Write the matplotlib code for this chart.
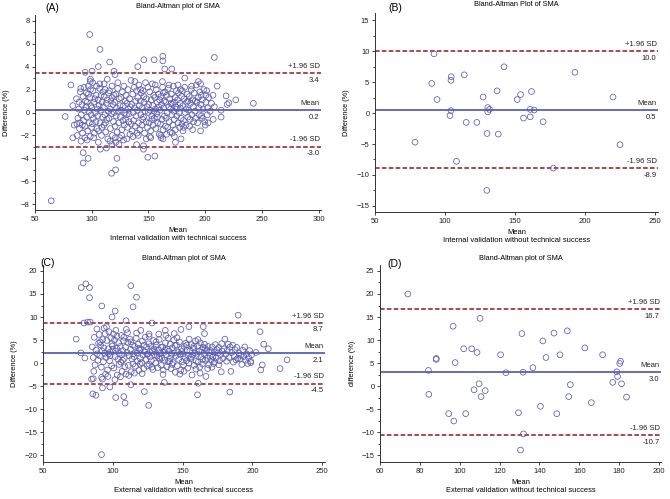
import numpy as np
import matplotlib.pyplot as plt
from matplotlib.ticker import MultipleLocator, AutoMinorLocator
import matplotlib.transforms as mtransforms

plt.rcParams['font.family'] = ['Liberation Sans', 'DejaVu Sans']

# ---- data: (mean, difference %) ----
# (A) internal validation with technical success
a_points = np.array([
    # outlying points
    (64.3, -7.7), (76.6, -0.35), (81.6, 2.4), (83.3, 0.6), (83.3, -2.2), (84.5, -1.1),
    (98.2, 6.8), (107.3, 5.5), (105.8, 4.0), (100.3, 3.6), (94.2, 3.5), (115.8, 4.4),
    (119.6, 3.6), (120.5, 3.3), (113.7, 2.9), (98.8, 2.9), (98.8, 2.7),
    (92.4, -4.4), (96.8, -4.0), (92.4, -3.5), (117.5, -5.3), (121.0, -5.0), (122.2, -4.0),
    (107.6, -3.2), (112.9, -3.1), (117.8, -2.8), (124.0, -2.8), (120.8, -2.2),
    (139.5, -2.8), (145.6, -2.9), (145.6, -3.2), (149.4, -3.9), (155.6, -3.8),
    (152.0, -2.2), (161.0, -2.2), (162.8, -2.3), (172.8, -2.1), (173.7, -2.6), (178.7, -2.3),
    (140.6, 4.0), (145.9, 4.6), (155.0, 4.6), (162.6, 4.9), (162.6, 4.5), (164.3, 3.8),
    (170.5, 3.8), (208.0, 4.8), (181.9, 3.0), (162.3, 2.7),
    (180.4, -1.6), (188.9, -1.5), (195.9, -1.6), (200.0, -1.1), (201.8, -0.2), (197.4, -0.5),
    (210.5, 2.3), (214.0, -0.4), (214.0, 0.2), (218.4, 1.45), (219.3, 0.7), (220.8, 0.85),
    (226.9, 1.1), (242.4, 0.8), (200.6, 1.5), (193.9, 2.7), (195.9, 2.5),
    # main cloud
    (86.5, 1.2), (87.8, -0.5), (88.4, 0.3), (89.2, -1.4), (89.9, 1.8), (87.2, -2.0), (88.8, 0.9),
    (89.5, -0.9), (86.9, -1.0),
    (90.3, 2.1), (90.8, -0.2), (91.4, 0.7), (91.9, -1.8), (92.3, 1.4), (92.8, -0.7), (93.2, 2.2),
    (93.6, 0.2), (94.1, -1.2), (94.5, 1.0), (90.6, -2.5), (91.7, -1.1), (93.9, -2.2), (94.8, 0.5),
    (95.2, 1.7), (95.6, -0.4), (96.1, 0.9), (96.5, -1.6), (96.9, 2.3), (97.4, 0.1), (97.8, -0.9),
    (98.3, 1.3), (98.7, -2.1), (99.2, 0.6), (99.6, -0.2), (95.9, -2.4), (97.1, 1.6), (98.9, 2.0),
    (99.8, -1.3),
    (100.2, 0.4), (100.6, -1.0), (101.1, 1.9), (101.5, -0.5), (101.9, 0.9), (102.4, -1.8),
    (102.8, 1.2), (103.3, 0.0), (103.7, -0.8), (104.2, 2.3), (104.6, -1.4), (100.8, 2.6),
    (101.7, -2.2), (103.9, 1.5), (104.9, 0.3),
    (105.2, -0.3), (105.6, 1.1), (106.0, -1.6), (106.5, 0.6), (106.9, 2.1), (107.3, -0.9),
    (107.8, 0.2), (108.2, 1.5), (108.6, -2.0), (109.1, 0.9), (109.5, -0.4), (105.8, -2.6),
    (107.0, 2.5), (108.9, -1.3), (109.8, 1.8),
    (110.2, 0.5), (110.6, -1.1), (111.0, 1.4), (111.5, -0.2), (111.9, 2.0), (112.3, -1.7),
    (112.8, 0.8), (113.2, -0.6), (113.6, 1.1), (114.1, -2.3), (114.5, 0.1), (110.9, 2.5),
    (112.1, -0.9), (114.8, 1.7),
    (115.2, -0.5), (115.6, 1.9), (116.1, 0.3), (116.5, -1.4), (116.9, 1.0), (117.4, -0.1),
    (117.8, 2.3), (118.2, -2.0), (118.7, 0.7), (119.1, -0.8), (119.5, 1.5), (116.0, -2.5),
    (118.0, 1.3), (119.8, 0.0),
    (120.2, 0.9), (120.6, -1.2), (121.1, 1.6), (121.5, -0.3), (121.9, 0.4), (122.4, -1.7),
    (122.8, 2.1), (123.3, 0.1), (123.7, -0.9), (124.2, 1.2), (124.6, -2.2), (121.3, -2.6),
    (123.0, 2.6), (124.9, 0.6),
    (125.2, -0.4), (125.7, 1.3), (126.1, 0.2), (126.5, -1.5), (127.0, 1.8), (127.4, -0.7),
    (127.8, 0.6), (128.3, 2.3), (128.7, -1.1), (129.1, 0.0), (129.6, 1.0), (126.3, -2.0),
    (128.0, -2.4), (129.9, -0.6),
    (130.2, 1.5), (130.6, -0.2), (131.1, 0.8), (131.5, -1.3), (131.9, 2.0), (132.4, 0.3),
    (132.8, -0.8), (133.3, 1.2), (133.7, -1.9), (134.1, 0.5), (134.6, 2.8), (130.9, -2.3),
    (132.9, -0.1), (134.8, -1.0),
    (135.2, 0.7), (135.6, -1.6), (136.1, 1.6), (136.5, 0.0), (136.9, -0.7), (137.4, 2.2),
    (137.8, 0.4), (138.2, -1.2), (138.7, 1.0), (139.1, -0.3), (139.5, 1.9), (136.3, -2.1),
    (138.0, 2.7), (139.8, -1.8),
    (140.2, 0.2), (140.6, 1.3), (141.1, -0.9), (141.5, 2.4), (141.9, 0.6), (142.4, -1.5),
    (142.8, 1.0), (143.3, -0.2), (143.7, 1.7), (144.1, -1.1), (144.6, 0.4), (141.0, -2.0),
    (143.0, 2.0), (144.9, -0.6),
    (145.2, 1.9), (145.6, -0.4), (146.1, 0.9), (146.5, -1.8), (146.9, 0.1), (147.4, 2.6),
    (147.8, -0.8), (148.2, 1.2), (148.7, 0.5), (149.1, -1.3), (149.5, 2.2), (146.0, 1.4),
    (148.0, -2.3), (149.8, 0.0),
    (150.2, 0.7), (150.6, -0.9), (151.1, 1.8), (151.5, 0.2), (151.9, -1.6), (152.4, 1.1),
    (152.8, -0.3), (153.3, 2.5), (153.7, 0.6), (154.1, -1.1), (154.6, 1.5), (151.0, -2.1),
    (153.0, -0.6), (154.9, 0.1),
    (155.2, -0.5), (155.6, 1.3), (156.1, 0.3), (156.5, -1.4), (156.9, 2.0), (157.4, -0.1),
    (157.8, 0.9), (158.2, -0.9), (158.7, 1.6), (159.1, 0.5), (159.5, -1.9), (156.0, 2.4),
    (158.0, -0.4), (159.8, 1.1),
    (160.2, 0.2), (160.6, -1.0), (161.1, 1.4), (161.5, 0.7), (161.9, -0.6), (162.4, 2.2),
    (162.8, -1.5), (163.3, 0.4), (163.7, 1.0), (164.1, -0.3), (164.6, 1.8), (160.9, -2.0),
    (163.0, 1.7), (164.9, -1.2),
    (165.2, 0.9), (165.6, -0.5), (166.1, 1.5), (166.5, 0.0), (166.9, -1.3), (167.4, 2.1),
    (167.8, 0.5), (168.2, -0.8), (168.7, 1.2), (169.1, -1.7), (169.5, 0.3), (166.0, -1.9),
    (168.0, 2.4), (169.8, 0.8),
    (170.2, 1.6), (170.6, -0.2), (171.1, 0.7), (171.5, -1.1), (171.9, 2.3), (172.4, 0.1),
    (172.8, -0.6), (173.3, 1.3), (173.7, -1.5), (174.1, 0.5), (174.6, 1.9), (171.0, -1.8),
    (173.0, 0.9), (174.9, -0.3),
    (175.2, 0.3), (175.6, 1.1), (176.1, -0.9), (176.5, 1.7), (176.9, 0.0), (177.4, -1.3),
    (177.8, 0.8), (178.2, 2.0), (178.7, -0.5), (179.1, 1.4), (179.5, -1.0), (176.0, 2.4),
    (178.0, 0.4), (179.8, 1.9),
    (180.3, 0.6), (180.8, -0.7), (181.4, 1.2), (181.9, 2.2), (182.5, 0.0), (183.0, -1.1),
    (183.6, 0.9), (184.1, 1.6), (184.7, -0.4), (181.0, -1.3), (183.2, 0.3), (184.9, 1.0),
    (185.3, 0.2), (185.9, 1.4), (186.5, -0.6), (187.1, 0.8), (187.7, 2.0), (188.3, -0.2),
    (188.9, 1.1), (189.5, 0.5), (186.2, -1.2), (188.0, 2.3), (189.8, -0.8),
    (190.3, 1.7), (190.9, 0.1), (191.5, -0.5), (192.1, 2.4), (192.7, 0.9), (193.3, -0.9),
    (193.9, 1.3), (194.5, 0.4), (191.2, 1.0), (194.8, -0.2),
    (195.3, 1.8), (196.0, 0.7), (196.7, -0.3), (197.4, 1.1), (198.1, 0.3), (198.8, 2.0),
    (199.5, -0.8), (196.4, 1.5),
    (200.5, 0.9), (201.3, 1.9), (202.1, 0.4), (203.0, 1.3), (204.2, 0.1), (205.5, 0.8),
    (206.8, 1.5), (208.0, 0.5), (207.0, -0.6), (202.6, -0.9),
])

# (B) internal validation without technical success
b_points = np.array([
    (92.1, 9.6), (90.5, 4.8), (94.3, 2.2), (104.4, 5.9), (104.2, 5.3), (104.2, 0.4),
    (103.5, -0.4), (113.7, 6.2), (115.1, -1.5), (108.2, -7.8), (78.6, -4.7), (127.2, 2.6),
    (130.5, 0.9), (130.5, 0.2), (131.7, 0.6), (122.7, -1.5), (130.0, -3.3), (129.8, -12.5),
    (137.1, 3.6), (142.1, 7.5), (138.0, -3.4), (151.5, 2.2), (153.9, 3.0), (156.0, -0.8),
    (161.7, 3.5), (160.8, 0.6), (163.6, 0.5), (160.8, -0.6), (170.0, -1.4), (177.3, -8.9),
    (192.7, 6.6), (219.9, 2.6), (224.9, -5.1),
])

# (C) external validation with technical success
c_points = np.array([
    # outlying points
    (77.4, 16.4), (80.7, 17.2), (83.3, 16.4), (83.3, 14.2), (92.1, 12.4), (101.7, 11.3),
    (99.5, 10.0), (112.9, 16.8), (117.0, 14.3), (114.5, 12.2), (109.5, 9.2), (128.1, 8.7),
    (79.3, 8.7), (82.0, 8.9), (83.8, 8.9), (73.8, 5.2), (77.1, 2.2), (80.0, 1.1),
    (84.8, -3.5), (86.0, -3.4), (85.7, -6.7), (87.9, -7.0), (92.6, -3.5), (92.6, -5.4),
    (97.9, -5.2), (102.1, -7.5), (107.9, -7.3), (108.8, -8.7), (112.9, -4.7), (122.6, -6.2),
    (125.7, -9.2), (91.9, -19.9), (136.9, -4.2), (160.7, -6.9), (161.2, -4.4), (183.8, -6.3),
    (189.8, 10.4), (205.5, 6.8), (208.1, 4.1), (211.4, 3.1), (202.6, 2.3), (198.8, 0.1),
    (219.8, -1.2), (224.8, 0.7), (207.1, -0.4), (206.0, -1.5), (164.8, 7.9), (165.7, 6.4),
    (154.5, 7.9), (148.8, 7.3), (144.0, 6.4), (137.6, 7.1), (132.9, 6.3), (120.0, 7.1),
    (126.0, 6.3),
    # main cloud
    (85.3, 3.5), (86.0, 1.2), (86.7, 5.6), (87.3, -0.4), (88.0, 2.8), (88.6, 7.4), (89.3, 0.6),
    (89.8, 4.3), (86.4, -1.8), (88.9, 2.0),
    (90.2, 6.2), (90.7, 1.6), (91.3, 3.9), (91.8, -0.9), (92.3, 2.6), (92.8, 5.1), (93.3, 0.3),
    (93.8, 7.6), (94.3, 2.1), (94.8, -2.4), (90.9, 4.6), (92.0, -3.1), (93.5, 3.3), (94.6, 6.4),
    (95.2, 1.2), (95.7, 4.9), (96.2, -1.5), (96.7, 3.1), (97.2, 6.8), (97.7, 0.5), (98.2, 2.4),
    (98.7, 5.5), (99.2, -0.6), (99.7, 3.7), (95.5, 7.9), (96.5, -2.9), (98.0, 1.6), (99.4, 4.2),
    (97.0, 2.0),
    (100.2, 2.9), (100.7, -1.1), (101.2, 5.0), (101.7, 1.4), (102.2, 7.1), (102.7, 3.2),
    (103.2, -2.6), (103.7, 0.8), (104.2, 4.4), (104.7, 2.1), (100.5, 6.3), (101.5, -3.6),
    (103.0, 5.8), (104.5, -0.3), (102.0, 2.6),
    (105.2, 3.6), (105.7, 0.2), (106.2, 6.0), (106.7, -1.8), (107.2, 2.7), (107.7, 4.8),
    (108.2, 1.0), (108.7, -0.8), (109.2, 3.4), (109.7, 7.3), (105.5, -3.0), (106.5, 1.8),
    (108.0, 5.6), (109.5, -2.4), (107.0, 0.6),
    (110.2, 2.3), (110.7, 4.5), (111.2, -0.5), (111.7, 1.6), (112.2, 5.2), (112.7, 3.0),
    (113.2, -1.9), (113.7, 0.9), (114.2, 3.9), (114.7, 2.0), (110.5, 6.6), (111.5, -2.7),
    (113.0, 4.6), (114.5, -0.2),
    (115.2, 1.4), (115.7, 3.6), (116.2, -0.7), (116.7, 5.4), (117.2, 2.2), (117.7, 0.4),
    (118.2, 4.1), (118.7, -1.6), (119.2, 2.8), (119.7, 1.0), (115.5, -2.2), (117.0, 6.5),
    (118.5, 3.2), (119.5, -0.2),
    (120.2, 3.0), (120.7, 0.1), (121.2, 4.8), (121.7, 1.7), (122.2, -1.2), (122.7, 2.5),
    (123.2, 5.6), (123.7, 0.8), (124.2, 3.5), (124.7, -0.6), (121.0, -2.3), (122.5, 3.9),
    (124.5, 1.9),
    (125.2, 2.0), (125.7, 4.2), (126.2, -0.3), (126.7, 1.3), (127.2, 3.6), (127.7, 0.5),
    (128.2, 2.7), (128.7, -1.4), (129.2, 4.9), (129.7, 1.8), (126.0, 5.8), (128.0, -0.9),
    (129.5, 3.1),
    (130.2, 2.4), (130.7, 0.0), (131.2, 3.9), (131.7, 1.5), (132.2, -1.0), (132.7, 2.9),
    (133.2, 5.1), (133.7, 0.9), (134.2, 2.1), (134.7, -0.5), (131.0, 4.6), (133.0, 1.2),
    (134.5, 3.4),
    (135.2, 1.1), (135.7, 3.5), (136.2, -1.5), (136.7, 2.3), (137.2, 0.6), (137.7, 4.4),
    (138.2, 1.8), (138.7, -0.8), (139.2, 3.0), (139.7, 5.4), (136.0, -2.5), (137.5, 2.9),
    (139.5, 0.3), (138.0, 6.0),
    (140.2, 2.6), (140.7, 0.4), (141.2, 4.1), (141.7, -1.2), (142.2, 1.9), (142.7, 3.3),
    (143.2, 0.1), (143.7, 5.0), (144.2, 2.2), (144.7, -2.0), (141.0, 1.0), (142.5, -0.3),
    (144.5, 3.8),
    (145.2, 1.5), (145.7, 3.9), (146.2, -0.6), (146.7, 2.4), (147.2, 0.8), (147.7, 4.6),
    (148.2, 1.9), (148.7, -1.6), (149.2, 3.1), (149.7, 0.3), (146.0, 5.5), (148.0, -2.4),
    (149.5, 2.5),
    (150.2, 2.0), (150.7, -0.4), (151.2, 3.6), (151.7, 1.2), (152.2, 4.3), (152.7, 0.5),
    (153.2, 2.8), (153.7, -1.1), (154.2, 1.6), (154.7, 5.2), (151.0, -1.8), (153.0, 3.9),
    (154.5, 0.0),
    (155.2, 2.6), (155.7, 0.9), (156.2, 4.0), (156.7, -2.6), (157.2, 1.7), (157.7, 3.2),
    (158.2, -0.5), (158.7, 2.2), (159.2, 4.8), (159.7, 0.4), (156.0, 1.3), (158.0, 3.6),
    (159.5, -1.3),
    (160.2, 1.9), (160.7, 3.7), (161.2, 0.2), (161.7, 2.5), (162.2, -0.9), (162.7, 4.4),
    (163.2, 1.4), (163.7, 2.9), (164.2, -0.2), (164.7, 3.4), (161.0, 5.1), (162.5, -2.2),
    (164.5, 0.8),
    (165.2, 2.1), (165.7, 4.1), (166.2, 0.6), (166.7, -2.9), (167.2, 2.8), (167.7, 1.0),
    (168.2, 3.6), (168.7, -0.4), (169.2, 2.3), (169.7, 1.5), (166.0, 3.2), (168.0, -1.2),
    (170.2, 2.7), (170.7, 0.7), (171.2, 3.5), (171.7, 1.3), (172.2, -0.1), (172.8, 2.4),
    (173.4, 4.0), (174.0, 1.1), (174.6, 2.9), (171.0, -0.9), (173.0, 0.3),
    (175.3, 2.2), (175.9, 3.4), (176.5, 0.5), (177.1, 1.8), (177.7, -1.9), (178.3, 2.6),
    (178.9, 1.0), (179.5, 3.1), (176.0, -0.4), (178.0, 4.2),
    (180.3, 5.2), (180.9, 1.9), (181.5, 0.4), (182.1, 2.8), (182.7, 4.1), (183.3, 1.2),
    (184.0, 3.5), (184.6, -1.8), (185.2, 2.3), (185.8, 3.9), (186.4, 0.2), (187.0, 1.5),
    (187.6, 2.9), (188.2, 0.7), (188.8, 3.4), (189.4, 1.0),
    (190.3, 2.2), (191.0, 0.9), (191.7, 1.7), (192.4, -0.3), (193.1, 2.8), (193.8, 1.4),
    (194.5, 3.5), (195.2, 0.6), (195.9, 2.0), (196.6, -0.1), (197.3, 1.2), (198.0, 2.7),
    (198.7, 0.4), (199.4, 1.8),
])

# (D) external validation without technical success
d_points = np.array([
    (74.0, 20.0), (84.3, 3.4), (84.5, -1.8), (88.2, 5.8), (88.2, 6.0), (96.7, 13.0),
    (97.7, 5.1), (94.5, -6.0), (97.0, -7.6), (102.0, 8.1), (103.0, -6.0), (106.0, 8.1),
    (108.7, 7.3), (107.2, -0.8), (109.7, 0.5), (110.7, -2.3), (112.8, -1.0), (110.2, 14.7),
    (120.5, 6.8), (123.2, 2.9), (129.5, -5.8), (131.2, 11.4), (131.8, 3.0), (132.0, -10.4),
    (130.5, -13.9), (136.7, 4.0), (141.7, 9.8), (143.3, 6.2), (140.5, -4.4), (147.3, 11.5),
    (148.7, -6.0), (150.3, 6.8), (154.0, 12.0), (154.7, -2.3), (155.5, 0.3), (162.8, 8.3),
    (166.0, -3.6), (171.7, 6.8), (176.8, 0.8), (178.8, 3.1), (179.2, 2.1), (180.3, 4.9),
    (180.7, 5.4), (181.2, 0.5), (183.7, -2.4),
])

# mean, +1.96 SD, -1.96 SD for each panel
bias = [0.2, 0.5, 2.1, 3.0]
upper_loa = [3.4, 10.0, 8.7, 16.7]
lower_loa = [-3.0, -8.9, -4.5, -10.7]

letters = ['(A)', '(B)', '(C)', '(D)']
titles = ['Bland-Altman plot of SMA', 'Bland-Altman Plot of SMA',
          'Bland-Altman plot of SMA', 'Bland-Altman plot of SMA']
subtitles = ['Internal validation with technical success',
             'Internal validation without technical success',
             'External validation with technical success',
             'External validation without technical success']
ylabels = ['Difference (%)', 'Difference (%)', 'Difference (%)', 'difference (%)']

W, H = 670, 499

def px(x, y):
    return x / W, 1 - y / H

fig = plt.figure(figsize=(6.7, 4.99), dpi=100)

# axes boxes in pixels: left, top, right, bottom
boxes = [(35, 15, 321, 210), (375, 13, 658, 212), (43, 265, 325, 462), (380, 265, 661, 462)]
xlims = [(50, 302), (50, 252), (50, 252), (60, 201)]
ylims = [(-8.5, 8.5), (-16, 16.2), (-21.5, 21.3), (-16.5, 26.3)]
xsteps = [50, 50, 50, 20]
ysteps = [2, 5, 5, 5]
letter_pos = [(45, 8), (388, 8), (40, 263), (387, 264)]

pts_all = [a_points, b_points, c_points, d_points]
blue = '#3a46a4'
red = '#8e1b1b'
circ = '#5b5bb0'

for i in range(4):
    l, t, r, b = boxes[i]
    ax = fig.add_axes([l / W, 1 - b / H, (r - l) / W, (b - t) / H])
    pts = pts_all[i]
    ax.scatter(pts[:, 0], pts[:, 1], s=17, facecolors='none', edgecolors=circ, linewidths=0.55, zorder=3)
    ax.axhline(bias[i], color=blue, lw=1.1, zorder=2)
    ax.axhline(upper_loa[i], color=red, lw=1.1, ls=(0, (3, 1.5)), zorder=2)
    ax.axhline(lower_loa[i], color=red, lw=1.1, ls=(0, (3, 1.5)), zorder=2)
    ax.set_xlim(*xlims[i])
    ax.set_ylim(*ylims[i])
    ax.xaxis.set_major_locator(MultipleLocator(xsteps[i]))
    ax.yaxis.set_major_locator(MultipleLocator(ysteps[i]))
    ax.yaxis.set_minor_locator(AutoMinorLocator(2))
    ax.tick_params(labelsize=5.5, length=2.5, width=0.6, pad=1.5, colors='#222222')
    ax.tick_params(which='minor', length=1.5, width=0.5)
    for s in ['top', 'right']:
        ax.spines[s].set_visible(False)
    for s in ['left', 'bottom']:
        ax.spines[s].set_linewidth(0.7)
        ax.spines[s].set_color('#333333')

    tr = mtransforms.blended_transform_factory(ax.transAxes, ax.transData)
    for val, name in [(upper_loa[i], '+1.96 SD'), (bias[i], 'Mean'), (lower_loa[i], '-1.96 SD')]:
        ax.annotate(name, xy=(0.995, val), xycoords=tr, xytext=(0, 2.5), textcoords='offset points',
                    ha='right', va='bottom', fontsize=5.5, color='#222222')
        ax.annotate(f'{val:.1f}', xy=(0.995, val), xycoords=tr, xytext=(0, -2.5), textcoords='offset points',
                    ha='right', va='top', fontsize=5.5, color='#222222')

    cx = (l + r) / 2
    fig.text(*px(cx, t - 8 if i in (0, 1) else t - 7), titles[i], ha='center', va='center', fontsize=5.3)
    fig.text(*px(*letter_pos[i]), letters[i], ha='left', va='center', fontsize=7.5)
    fig.text(*px(cx, b + 20), 'Mean', ha='center', va='center', fontsize=5.4)
    fig.text(*px(cx, b + 29), subtitles[i], ha='center', va='center', fontsize=5.4)
    fig.text(*px(l - 28, (t + b) / 2), ylabels[i], ha='center', va='center',
             rotation=90, fontsize=5.3)

fig.savefig('out.png', dpi=100)
